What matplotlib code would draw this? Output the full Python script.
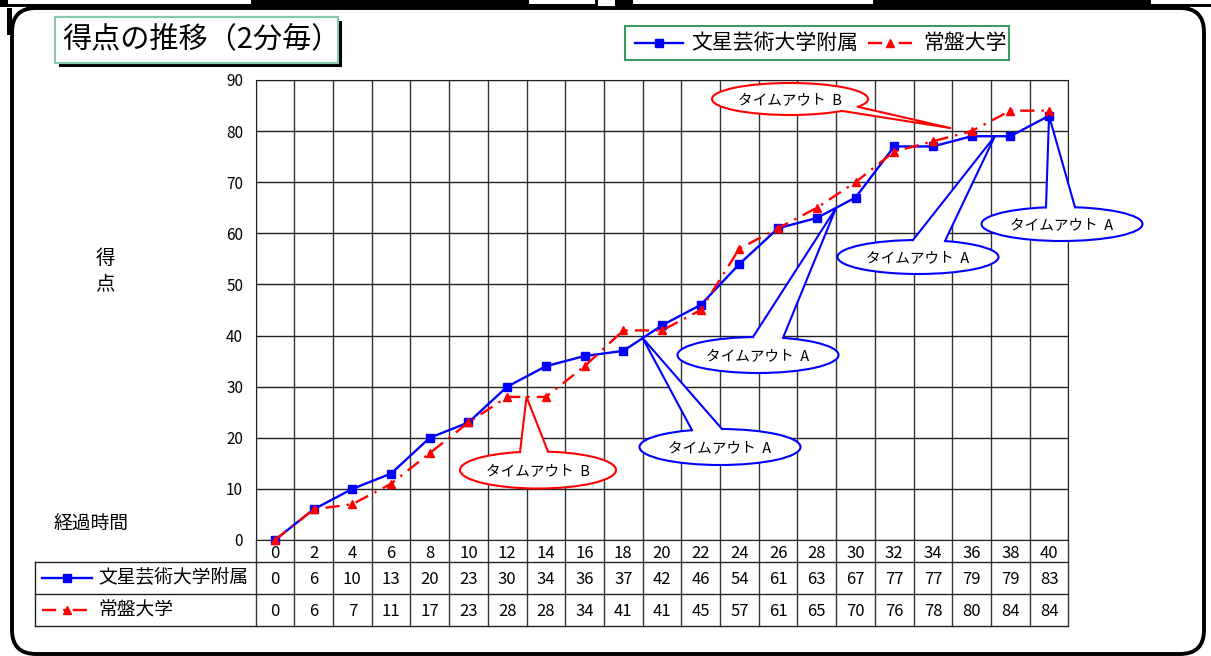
import numpy as np
import matplotlib
matplotlib.use('Agg')
import matplotlib.pyplot as plt
from matplotlib.patches import Ellipse, Polygon, Rectangle, FancyBboxPatch

plt.rcParams['font.family'] = ['Noto Sans CJK JP', 'DejaVu Sans']

# data
times = list(range(0, 41, 2))
bunsei = [0, 6, 10, 13, 20, 23, 30, 34, 36, 37, 42, 46, 54, 61, 63, 67, 77, 77, 79, 79, 83]
tokiwa = [0, 6, 7, 11, 17, 23, 28, 28, 34, 41, 41, 45, 57, 61, 65, 70, 76, 78, 80, 84, 84]
series_names = ['文星芸術大学附属', '常盤大学']
yticks = list(range(0, 91, 10))

# callouts: text, tip (category index, value), ellipse centre/size in px, tail base x offsets
co_text = ['タイムアウト  B', 'タイムアウト  A', 'タイムアウト  A', 'タイムアウト  A', 'タイムアウト  A', 'タイムアウト  B']
co_tip = [(6.5, 28), (9.5, 39.5), (14.5, 65), (18.6, 79), (20, 83), (17.45, 80.6)]
co_col = ['red', 'blue', 'blue', 'blue', 'blue', 'red']
co_box = [(538, 470, 156, 37), (720, 447, 161, 36), (758, 355, 161, 36),
          (918, 257, 161, 34), (1062, 224, 161, 34), (790, 99, 156, 32)]
co_base = [(-18, 10), (-28, 2), (-5, 25), (-5, 27), (-16, 13), (52, 68)]

W, H = 1211, 656
fig = plt.figure(figsize=(W / 100, H / 100), dpi=100)
fig.patch.set_facecolor('white')

pl, pr, pt, pb = 255.6, 1068.4, 80, 540
ax = fig.add_axes([pl / W, 1 - pb / H, (pr - pl) / W, (pb - pt) / H])
n = len(times)
idx = np.arange(n)
ax.set_xlim(-0.5, n - 0.5)
ax.set_ylim(0, 90)
for k in range(n + 1):
    ax.axvline(k - 0.5, color='#333333', lw=1, zorder=1)
for v in yticks:
    ax.axhline(v, color='#222222', lw=1, zorder=1)
for s in ax.spines.values():
    s.set_color('#222222')
ax.set_xticks([])
ax.set_yticks(yticks)
ax.tick_params(axis='y', length=0, pad=9, labelsize=11)

ax.plot(idx, bunsei, color='#0000ff', lw=1.7, marker='s', ms=6, zorder=3, clip_on=False)
ax.plot(idx, tokiwa, color='#ff0000', lw=1.7, ls=(0, (6, 3, 1, 3)), marker='^', ms=6,
        zorder=4, clip_on=False)

# overlay in pixel coordinates
ov = fig.add_axes([0, 0, 1, 1], zorder=5)
ov.set_xlim(0, W)
ov.set_ylim(H, 0)
ov.axis('off')
ov.patch.set_alpha(0)


def to_px(x, y):
    p = ax.transData.transform((x, y))
    return ov.transData.inverted().transform(p)


colw = (pr - pl) / n
# table
tl = 35
rows = [540, 562, 594, 626]
ov.plot([tl, pr], [rows[1], rows[1]], color='#222222', lw=1)
ov.plot([tl, pr], [rows[2], rows[2]], color='#222222', lw=1)
ov.plot([tl, pr], [rows[3], rows[3]], color='#222222', lw=1)
ov.plot([tl, tl], [rows[1], rows[3]], color='#222222', lw=1)
for k in range(n + 1):
    x = pl + k * colw
    ov.plot([x, x], [rows[0], rows[3]], color='#333333', lw=1)
for i in range(n):
    xc = to_px(i, 0)[0]
    ov.text(xc, (rows[0] + rows[1]) / 2 + 2, str(times[i]), ha='center', va='center', fontsize=12)
    ov.text(xc, (rows[1] + rows[2]) / 2 + 1, str(bunsei[i]), ha='center', va='center', fontsize=12)
    ov.text(xc, (rows[2] + rows[3]) / 2 + 1, str(tokiwa[i]), ha='center', va='center', fontsize=12)
# table legend keys
ym = (rows[1] + rows[2]) / 2
ov.plot([42, 92], [ym, ym], color='#0000ff', lw=1.7)
ov.plot([67], [ym], marker='s', ms=6, color='#0000ff')
ov.text(98, ym, series_names[0], va='center', fontsize=13.5)
ym = (rows[2] + rows[3]) / 2
ov.plot([42, 92], [ym, ym], color='#ff0000', lw=1.7, ls=(0, (6, 3, 1, 3)))
ov.plot([67], [ym], marker='^', ms=6, color='#ff0000')
ov.text(98, ym, series_names[1], va='center', fontsize=13.5)

# axis labels
ov.text(105, 258, '得', ha='center', va='center', fontsize=14)
ov.text(105, 285, '点', ha='center', va='center', fontsize=14)
ov.text(53, 524, '経過時間', ha='left', va='center', fontsize=13.5)

# title box
ov.add_patch(Rectangle((59, 21), 283, 46, facecolor='black', edgecolor='none'))
ov.add_patch(Rectangle((55, 17), 283, 46, facecolor='white', edgecolor='#88c9a9', lw=1.5))
ov.text(62, 40, '得点の推移（2分毎）', ha='left', va='center', fontsize=21)

# legend box
ov.add_patch(Rectangle((625, 26), 384, 34, facecolor='white', edgecolor='#3a9a62', lw=1.5))
ov.plot([635, 683], [43, 43], color='#0000ff', lw=1.7)
ov.plot([659], [43], marker='s', ms=6, color='#0000ff')
ov.text(691, 43, series_names[0], va='center', fontsize=15)
ov.plot([868, 912], [43, 43], color='#ff0000', lw=1.7, ls=(0, (6, 3, 1, 3)))
ov.plot([890], [43], marker='^', ms=6, color='#ff0000')
ov.text(923, 43, series_names[1], va='center', fontsize=15)

# callouts
for txt, tip, col, box, base in zip(co_text, co_tip, co_col, co_box, co_base):
    cx, cy, w, h = box
    tx, ty = to_px(*tip)
    a, b = w / 2, h / 2
    sgn = 1 if ty > cy else -1
    pts, inner = [], []
    for dx in base:
        by = cy + sgn * b * np.sqrt(max(0, 1 - (dx / a) ** 2))
        pts.append((cx + dx, by))
        inner.append((cx + dx * 0.9, cy + (by - cy) * 0.7))
    ov.add_patch(Ellipse((cx, cy), w, h, facecolor='white', edgecolor=col, lw=1.5))
    ov.add_patch(Polygon([(tx, ty), pts[0], inner[0], inner[1], pts[1]], closed=True,
                         facecolor='white', edgecolor='none'))
    ov.plot([pts[0][0], tx, pts[1][0]], [pts[0][1], ty, pts[1][1]], color=col, lw=1.5)
    ov.text(cx, cy + 1, txt, ha='center', va='center', fontsize=10.5)

# outer frame
ov.add_patch(Rectangle((0, 0), W, 7, facecolor='black', edgecolor='none'))
for x0, x1 in [(8, 251), (529, 595), (633, 873), (1151, W)]:
    ov.add_patch(Rectangle((x0, 0), x1 - x0, 3.5, facecolor='white', edgecolor='none'))
ov.add_patch(Rectangle((598, 0), 17, 8, facecolor='white', edgecolor='none'))
ov.add_patch(Rectangle((7, 8), 5, 27, facecolor='black', edgecolor='none'))
ov.add_patch(FancyBboxPatch((12, 8), 1192, 646, boxstyle='round,pad=0,rounding_size=24',
                            facecolor='none', edgecolor='black', lw=2.8))

fig.savefig('out.png', dpi=100)
